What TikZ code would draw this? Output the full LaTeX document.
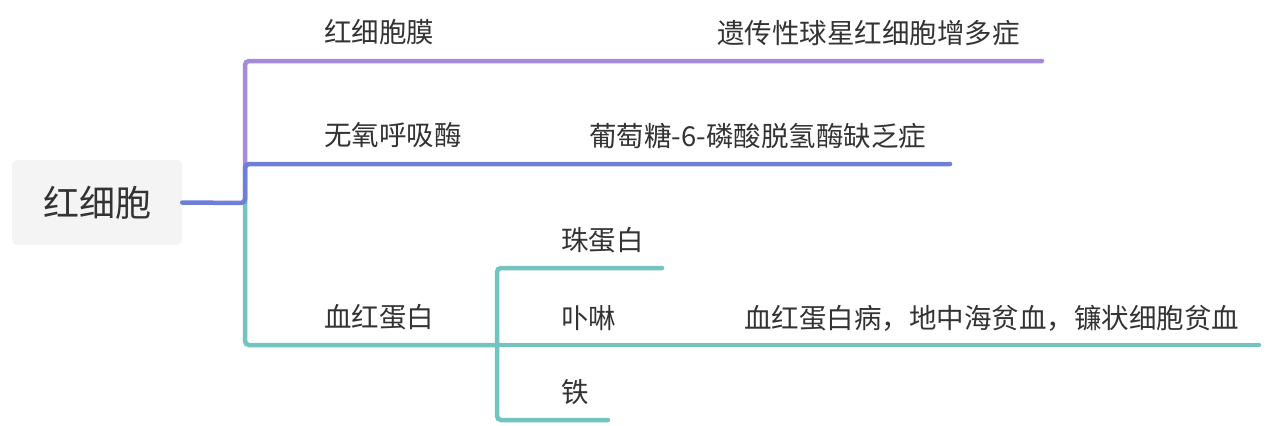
\documentclass[tikz,border=0pt]{standalone}
\usepackage{fontspec}
\setmainfont{Noto Sans CJK SC}
\definecolor{cpurple}{HTML}{A48BDB}
\definecolor{cblue}{HTML}{6E7FD9}
\definecolor{cteal}{HTML}{72C4C1}
\definecolor{ctext}{HTML}{333333}
\definecolor{cbox}{HTML}{F4F4F4}
\tikzset{
  lbl/.style={anchor=west, inner sep=0pt, text=ctext, font=\fontsize{27.5}{30}\selectfont},
  rootbox/.style={fill=cbox, rounded corners=5pt, inner sep=0pt, minimum width=170pt, minimum height=85pt, text=ctext, font=\fontsize{36}{40}\selectfont},
  conn/.style={line width=4.5pt, line cap=round, rounded corners=4pt},
}
\begin{document}
\begin{tikzpicture}[x=1pt,y=-1pt]
\useasboundingbox (0,0) rectangle (1270,426);
% nodes
\node[rootbox] (root) at (97,202.5) {红细胞};
\node[lbl] (n1) at (324,32) {红细胞膜};
\node[lbl] (n1c) at (717,33) {遗传性球星红细胞增多症};
\node[lbl] (n2) at (324,135) {无氧呼吸酶};
\node[lbl] (n2c) at (589,136) {葡萄糖-6-磷酸脱氢酶缺乏症};
\node[lbl] (n3) at (324,317) {血红蛋白};
\node[lbl] (n31) at (561,240) {珠蛋白};
\node[lbl] (n32) at (561,318) {卟啉};
\node[lbl] (n32c) at (744,318) {血红蛋白病，地中海贫血，镰状细胞贫血};
\node[lbl] (n33) at (561,392) {铁};
% coordinates
\coordinate (fork) at (245,203);
\coordinate (e1) at (1042,61);
\coordinate (e2) at (950,164);
\coordinate (f3) at (497,345);
\coordinate (e31) at (662,268);
\coordinate (e32) at (1259,345);
\coordinate (e33) at (608,420);
% connectors
\draw[conn, cpurple] (fork) -- (245,61) -- (n1.south west |- e1) -- (n1c.south west |- e1) -- (e1);
\draw[conn, cteal] (fork) -- (245,345) -- (n3.south west |- f3) -- (f3);
\draw[conn, cteal] (f3) -- (497,268) -- (e31);
\draw[conn, cteal] (f3) -- (e32);
\draw[conn, cteal] (f3) -- (497,420) -- (e33);
\draw[conn, cblue] (root.east) -- (fork) -- (245,164) -- (n2.south west |- e2) -- (e2);
\end{tikzpicture}
\end{document}
